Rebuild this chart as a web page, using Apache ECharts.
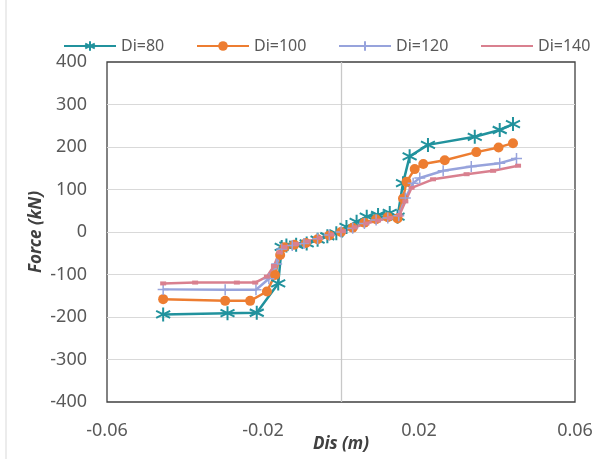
<!DOCTYPE html>
<html>
<head>
<meta charset="utf-8">
<script src="https://cdn.jsdelivr.net/npm/echarts@6/dist/echarts.min.js"></script>
<style>
  html, body { margin: 0; padding: 0; background: #fff; }
  #chart { width: 613px; height: 459px; }
</style>
</head>
<body>
<div id="chart"></div>
<script>
// 图例名称
const seriesNames = ["Di=80", "Di=100", "Di=120", "Di=140"];

// Di=80
const dis80 = [-0.0456, -0.0291, -0.0216, -0.0161, -0.0152, -0.014, -0.0115, -0.0088, -0.006, -0.0035, -0.0012, 0.0014, 0.004, 0.0066, 0.0095, 0.0125, 0.0145, 0.0159, 0.0176, 0.0223, 0.0343, 0.0407, 0.0441];
const force80 = [-194, -191, -190, -121, -35, -32, -30, -27, -18, -10, -3, 12, 24, 36, 40, 45, 36, 115, 178, 205, 224, 240, 254];

// Di=100
const dis100 = [-0.0456, -0.0297, -0.0233, -0.019, -0.0169, -0.0156, -0.0145, -0.012, -0.009, -0.006, -0.003, 0, 0.003, 0.006, 0.009, 0.012, 0.0145, 0.0159, 0.0168, 0.0189, 0.0211, 0.0266, 0.0347, 0.0404, 0.0441];
const force100 = [-158, -162, -162, -140, -101, -54, -36, -30, -26, -17, -8, 0, 10, 22, 30, 35, 32, 79, 118, 148, 160, 169, 188, 199, 209];

// Di=120
const dis120 = [-0.0456, -0.0297, -0.0218, -0.0185, -0.0165, -0.0152, -0.0125, -0.0095, -0.006, -0.003, 0, 0.003, 0.006, 0.009, 0.012, 0.0148, 0.0165, 0.0185, 0.0202, 0.0262, 0.0334, 0.0407, 0.045];
const force120 = [-135, -136, -136, -110, -75, -40, -32, -27, -16, -7, 0, 9, 20, 28, 33, 38, 80, 115, 127, 144, 154, 162, 173];

// Di=140
const dis140 = [-0.0456, -0.0374, -0.0267, -0.022, -0.019, -0.0172, -0.0158, -0.0145, -0.0115, -0.0085, -0.0055, -0.0025, 0.0005, 0.0035, 0.0065, 0.0095, 0.0125, 0.015, 0.0165, 0.0181, 0.0236, 0.0322, 0.039, 0.0454];
const force140 = [-121, -119, -119, -119, -105, -80, -48, -35, -28, -22, -14, -6, 2, 11, 20, 27, 33, 40, 72, 104, 124, 136, 144, 156];

// 坐标轴刻度
const xTicks = { min: -0.06, max: 0.06, step: 0.04 };
const yTicks = { min: -400, max: 400, step: 100 };

const zip = (xs, ys) => xs.map((x, i) => [x, ys[i]]);

const colors = ["#21929d", "#ed7d31", "#97a3dc", "#d9808f"];
const starPath = "path://M0,-10L0,10M-8.66,-5L8.66,5M-8.66,5L8.66,-5";
const plusPath = "path://M0,-10L0,10M-10,0L10,0";

const baseFont = "'Noto Sans', 'DejaVu Sans', sans-serif";

const makeSeries = (name, data, color, symbol, symbolSize, borderWidth) => ({
  name: name,
  type: "line",
  data: data,
  symbol: symbol,
  symbolSize: symbolSize,
  showAllSymbol: true,
  lineStyle: { color: color, width: 2.5 },
  itemStyle: { color: color, borderColor: color, borderWidth: borderWidth },
  emphasis: { disabled: true },
  animation: false,
});

const legendLefts = [58, 191, 333, 475];

const options = {
  backgroundColor: "#fff",
  animation: false,
  legend: seriesNames.map((n, i) => {
    const lg = {
      data: [n],
      left: legendLefts[i],
      top: 33,
      itemWidth: 52,
      itemHeight: 12,
      textStyle: { color: "#595959", fontSize: 16, fontFamily: baseFont },
    };
    // Di=140 的短横标记在图例中与线重合
    if (i === 3) lg.itemStyle = { color: "rgba(0,0,0,0)", borderWidth: 0 };
    return lg;
  }),
  grid: {
    left: 107,
    right: 38,
    top: 62,
    bottom: 57,
    containLabel: false,
    outerBoundsMode: "none",
    show: true,
    borderColor: "#404040",
    borderWidth: 1.3,
    backgroundColor: "#fff",
  },
  xAxis: [
    {
      type: "value",
      min: xTicks.min,
      max: xTicks.max,
      interval: xTicks.step,
      axisLine: { show: false },
      axisTick: { show: false },
      splitLine: { show: false },
      axisLabel: {
        formatter: (v) => v.toFixed(2),
        color: "#595959",
        fontSize: 18,
        margin: 20,
        fontFamily: baseFont,
      },
      name: "Dis (m)",
      nameLocation: "middle",
      nameGap: 34,
      nameMoveOverlap: false,
      nameTextStyle: {
        color: "#404040",
        fontSize: 17,
        fontWeight: "bold",
        fontStyle: "italic",
        fontFamily: baseFont,
      },
    },
    {
      // 只画 x=0 处的竖线
      type: "value",
      min: xTicks.min,
      max: xTicks.max,
      interval: 0.06,
      position: "bottom",
      axisLine: { show: false },
      axisTick: { show: false },
      axisLabel: { show: false },
      splitLine: {
        show: true,
        showMinLine: false,
        showMaxLine: false,
        lineStyle: { color: "#c8c8c8", width: 1.3 },
      },
    },
  ],
  yAxis: {
    type: "value",
    min: yTicks.min,
    max: yTicks.max,
    interval: yTicks.step,
    axisLine: { show: false },
    axisTick: { show: false },
    splitLine: {
      show: true,
      showMinLine: false,
      showMaxLine: false,
      lineStyle: { color: "#d9d9d9", width: 1.2 },
    },
    axisLabel: {
      color: "#595959",
      fontSize: 18,
      margin: 20,
      fontFamily: baseFont,
    },
    name: "Force (kN)",
    nameLocation: "middle",
    nameGap: 62,
    nameRotate: 90,
    nameMoveOverlap: false,
    nameTextStyle: {
      color: "#404040",
      fontSize: 17,
      fontWeight: "bold",
      fontStyle: "italic",
      fontFamily: baseFont,
    },
  },
  graphic: [
    {
      type: "line",
      shape: { x1: 6, y1: 0, x2: 6, y2: 459 },
      style: { stroke: "#d9d9d9", lineWidth: 1 },
    },
  ],
  series: [
    makeSeries(seriesNames[0], zip(dis80, force80), colors[0], starPath, 14, 2),
    makeSeries(seriesNames[1], zip(dis100, force100), colors[1], "circle", 10, 0),
    makeSeries(seriesNames[2], zip(dis120, force120), colors[2], plusPath, 11, 1.5),
    makeSeries(seriesNames[3], zip(dis140, force140), colors[3], "rect", [6, 4], 0),
  ],
};

const chart = echarts.init(document.getElementById("chart"));
chart.setOption(options);

window.addEventListener("resize", () => {
  chart.resize();
});
</script>
</body>
</html>
